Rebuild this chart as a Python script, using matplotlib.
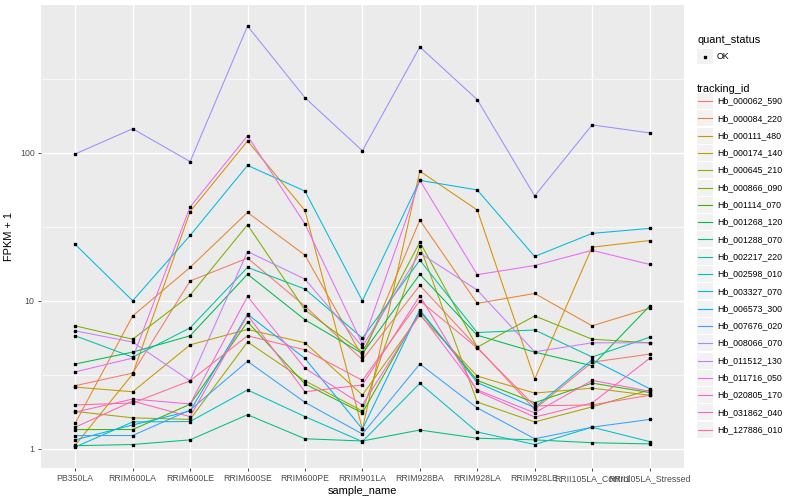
import matplotlib
matplotlib.use("Agg")
import matplotlib.pyplot as plt
from matplotlib.patches import Rectangle
from matplotlib.lines import Line2D
import numpy as np

plt.rcParams['font.family'] = ['Liberation Sans', 'DejaVu Sans']

samples = ["PB350LA", "RRIM600LA", "RRIM600LE", "RRIM600SE", "RRIM600PE", "RRIM901LA",
           "RRIM928BA", "RRIM928LA", "RRIM928LE", "RRII105LA_Control", "RRII105LA_Stressed"]

genes = ["Hb_000062_590", "Hb_000084_220", "Hb_000111_480", "Hb_000174_140", "Hb_000645_210",
         "Hb_000866_090", "Hb_001114_070", "Hb_001268_120", "Hb_001288_070", "Hb_002217_220",
         "Hb_002598_010", "Hb_003327_070", "Hb_006573_300", "Hb_007676_020", "Hb_008066_070",
         "Hb_011512_130", "Hb_011716_050", "Hb_020805_170", "Hb_031862_040", "Hb_127886_010"]

# FPKM + 1 per gene, one value per sample
fpkm = [
    [2.67, 3.25, 13.6, 19.4, 9.2, 4.0, 12.7, 4.86, 1.85, 3.85, 4.36],
    [1.49, 7.9, 16.8, 39.5, 20.3, 4.2, 35, 9.6, 11.2, 6.77, 8.9],
    [1.06, 3.2, 40, 120, 40.7, 1.36, 75, 41, 2.96, 23, 25.5],
    [2.61, 2.43, 5.04, 6.4, 5.2, 2.31, 8.0, 3.1, 2.38, 2.57, 2.3],
    [1.79, 1.62, 1.58, 5.27, 2.88, 1.8, 23.4, 2.07, 1.52, 1.92, 2.5],
    [6.77, 5.5, 10.9, 32.6, 8.67, 4.5, 24.9, 4.86, 7.9, 5.5, 5.2],
    [1.35, 1.35, 2.0, 7.2, 2.74, 1.75, 8.5, 2.9, 2.05, 2.78, 2.4],
    [3.74, 4.5, 5.8, 15.1, 7.44, 4.4, 15.1, 5.85, 4.5, 3.64, 9.2],
    [1.05, 1.07, 1.15, 1.7, 1.17, 1.13, 1.34, 1.18, 1.15, 1.1, 1.08],
    [5.8, 4.16, 6.56, 16.8, 12, 5.6, 18.8, 6.1, 6.35, 4.17, 5.67],
    [1.03, 1.52, 1.53, 2.5, 1.65, 1.12, 2.77, 1.3, 1.07, 1.4, 1.12],
    [24, 10, 27.6, 82, 55, 10, 65, 56, 19.9, 28.5, 30.8],
    [1.15, 1.45, 1.8, 8.1, 4.08, 1.36, 8.7, 2.8, 1.9, 4.0, 2.55],
    [1.23, 1.23, 1.83, 3.9, 2.06, 1.26, 3.74, 1.89, 1.17, 1.4, 1.58],
    [98, 145, 87, 716, 235, 103, 517, 228, 51, 154, 136],
    [6.26, 5.26, 2.88, 21.5, 14, 4.9, 21, 11.8, 4.52, 5.2, 5.2],
    [3.31, 4.1, 43, 130, 33, 5.1, 65, 15, 17.3, 21.9, 17.6],
    [1.77, 2.17, 2.01, 10.7, 3.5, 1.98, 8.2, 2.5, 1.75, 2.9, 2.45],
    [1.4, 2.1, 1.65, 8.0, 2.43, 2.7, 10.8, 2.45, 1.64, 2.04, 4.08],
    [1.98, 2.04, 2.88, 5.8, 4.66, 2.9, 10, 4.8, 1.95, 1.98, 2.3],
]

colors = ["#F8766D", "#EA8331", "#D89000", "#C09B00", "#A3A500", "#7CAE00", "#39B600",
          "#00BB4E", "#00BF7D", "#00C1A3", "#00BFC4", "#00BAE0", "#00B0F6", "#35A2FF",
          "#9590FF", "#C77CFF", "#E76BF3", "#FA62DB", "#FF62BC", "#FF6C91"]

fig = plt.figure(figsize=(8, 5), dpi=100)
ax = fig.add_axes([0.051, 0.064, 0.804, 0.926])
ax.set_facecolor("#EBEBEB")

x = np.arange(len(samples))
for vals, col in zip(fpkm, colors):
    ax.plot(x, vals, color=col, lw=0.75, zorder=3)
for vals in fpkm:
    ax.plot(x, vals, "s", color="black", ms=2.1, zorder=4, lw=0)

ax.set_yscale("log")
allv = np.log10(np.array(fpkm))
lo, hi = allv.min(), allv.max()
pad = (hi - lo) * 0.05
ax.set_ylim(10 ** (lo - pad), 10 ** (hi + pad))
ax.set_xlim(-0.6, len(samples) - 0.4)

ax.set_yticks([1, 10, 100])
ax.set_yticklabels(["1", "10", "100"])
ax.set_yticks([10 ** 0.5, 10 ** 1.5, 10 ** 2.5], minor=True)
ax.yaxis.set_minor_formatter(matplotlib.ticker.NullFormatter())
ax.set_xticks(x)
ax.set_xticklabels(samples)

ax.grid(True, which="major", color="white", lw=1.0, zorder=0)
ax.grid(True, which="minor", axis="y", color="white", lw=0.5, zorder=0)
ax.set_axisbelow(True)
for s in ax.spines.values():
    s.set_visible(False)
ax.tick_params(axis="both", which="major", length=2.5, width=0.6, color="#333333",
               labelsize=6.3, labelcolor="#4D4D4D", pad=2)
ax.tick_params(axis="y", which="minor", length=0)

ax.set_xlabel("sample_name", fontsize=7.9, labelpad=2)
ax.set_ylabel("FPKM + 1", fontsize=7.9, labelpad=4)

# legends
def px(xp, yp):
    return xp / 800, 1 - yp / 500

fig.text(*px(697, 40), "quant_status", fontsize=7.9, va="center", ha="left")
bx, by = px(697, 64)
fig.patches.append(Rectangle((bx, by), 16 / 800, 15 / 500, transform=fig.transFigure,
                             facecolor="#F2F2F2", edgecolor="none"))
fig.lines.append(Line2D([px(705, 0)[0]], [px(0, 56.5)[1]], marker="s", ms=2.1, color="black",
                        transform=fig.transFigure))
fig.text(*px(717, 56.5), "OK", fontsize=6.3, va="center", ha="left")

fig.text(*px(697, 89), "tracking_id", fontsize=7.9, va="center", ha="left")
step = 17.3
for i, (g, col) in enumerate(zip(genes, colors)):
    yc = 101 + step * i
    rx, ry = px(697, yc + 8)
    fig.patches.append(Rectangle((rx, ry), 16 / 800, 16 / 500, transform=fig.transFigure,
                                 facecolor="#F2F2F2", edgecolor="none"))
    x0, yy = px(698, yc)
    x1, _ = px(712, yc)
    fig.lines.append(Line2D([x0, x1], [yy, yy], color=col, lw=0.8, transform=fig.transFigure))
    fig.text(*px(717, yc), g, fontsize=6.3, va="center", ha="left")

fig.savefig("out.png", dpi=100)
